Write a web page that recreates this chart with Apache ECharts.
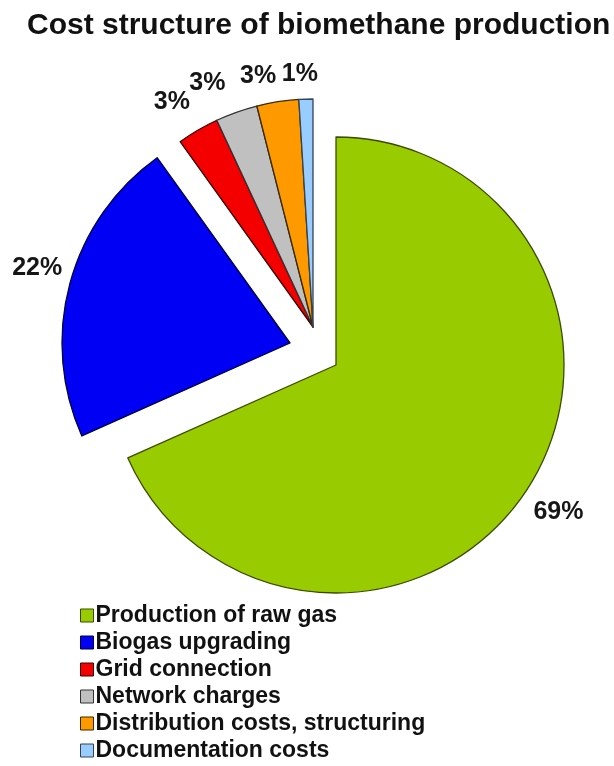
<!DOCTYPE html>
<html>
<head>
<meta charset="utf-8">
<script src="https://cdn.jsdelivr.net/npm/echarts@6/dist/echarts.min.js"></script>
<style>
html,body{margin:0;padding:0;background:#fff;}
#chart{width:614px;height:766px;}
</style>
</head>
<body>
<div id="chart"></div>
<script>
const categories = ['Production of raw gas', 'Biogas upgrading', 'Grid connection', 'Network charges', 'Distribution costs, structuring', 'Documentation costs'];
const values = [69, 22, 3, 3, 3, 1];
const groups = [0, 1, 2, 2, 2, 2];

const colors = ['#99CC00', '#0000F5', '#F50000', '#C0C0C0', '#FF9900', '#99CCFF'];
const borders = ['#3A4A00', '#00003A', '#3A0000', '#333333', '#3A2A00', '#334455'];
const groupCenters = [[336, 365], [290, 343], [313, 327]];
const labelNudge = [[1, 3], [2, -6], [-8, 3], [-17, 5], [-14, 10], [-5, 11]];
const FONT = '"Liberation Sans", Arial, sans-serif';

const chart = echarts.init(document.getElementById('chart'), null, {renderer: 'canvas'});

const series = groupCenters.map((c, g) => ({
  type: 'pie',
  center: c,
  radius: 228,
  startAngle: 90,
  clockwise: true,
  avoidLabelOverlap: false,
  silent: true,
  emphasis: {disabled: true},
  label: {
    position: 'outside',
    formatter: '{c}%',
    fontFamily: FONT,
    fontSize: 25,
    fontWeight: 'bold',
    color: '#161616',
    distanceToLabelLine: 0
  },
  labelLine: {show: false, length: 36, length2: 0},
  labelLayout: function (p) {
    const n = labelNudge[p.dataIndex];
    return {align: 'center', verticalAlign: 'middle', dx: n[0], dy: n[1]};
  },
  data: categories.map((name, i) => ({
    name: name,
    value: values[i],
    itemStyle: groups[i] === g
      ? {color: colors[i], borderColor: borders[i], borderWidth: 1.3}
      : {color: 'rgba(0,0,0,0)', borderWidth: 0},
    label: {show: groups[i] === g}
  }))
}));

chart.setOption({
  animation: false,
  backgroundColor: '#ffffff',
  title: {
    text: 'Cost structure of biomethane production',
    left: 22,
    top: 6,
    textStyle: {fontFamily: FONT, fontSize: 30, fontWeight: 'bold', color: '#111111'}
  },
  legend: {
    orient: 'vertical',
    left: 80,
    top: 604,
    padding: 0,
    height: 165,
    itemWidth: 13,
    itemHeight: 13,
    itemGap: 4,
    selectedMode: false,
    icon: 'rect',
    textStyle: {fontFamily: FONT, fontSize: 23, fontWeight: 'bold', color: '#111111', lineHeight: 22, padding: [0, 0, 0, -3]},
    data: categories.map((name, i) => ({
      name: name,
      itemStyle: {color: colors[i], borderColor: borders[i], borderWidth: 1, opacity: 1}
    }))
  },
  series: series
});
</script>
</body>
</html>
